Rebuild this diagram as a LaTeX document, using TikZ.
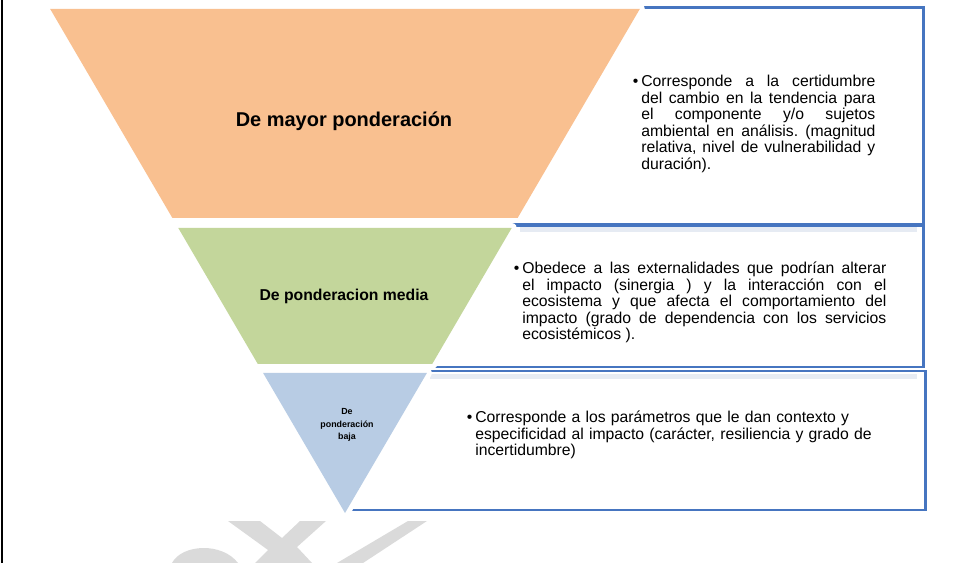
\documentclass[tikz,border=0pt]{standalone}
\usepackage{fontspec}
\setmainfont{Liberation Sans}
\usetikzlibrary{positioning}
\frenchspacing
\definecolor{boxblue}{RGB}{70,117,192}
\definecolor{pyrorange}{RGB}{249,192,144}
\definecolor{pyrgreen}{RGB}{195,214,155}
\definecolor{pyrblue}{RGB}{184,204,228}
\definecolor{shadowgray}{RGB}{230,235,243}
\definecolor{markgray}{RGB}{218,218,218}
\tikzstyle{infobox} = [
  rectangle,
  draw=boxblue,
  line width=2.1pt,
  inner sep=0
]
\tikzstyle{band} = [
  preaction={draw=white, line width=7.1pt, line join=round}
]
\tikzstyle{level} = [
  text centered,
  inner sep=0,
  font=\bfseries
]
\tikzstyle{desc} = [
  anchor=west,
  inner sep=0,
  font=\fontsize{11.2}{11.8}\selectfont
]

\begin{document}
\begin{tikzpicture}[x=0.025cm, y=-0.025cm]
      \useasboundingbox (0,0) rectangle (980,563);

      % cajas de la derecha
      \node [infobox, minimum width=14.45cm, minimum height=5.4cm] (boxmayor) at (634,116) {};
      \node [infobox, minimum width=14.45cm, minimum height=3.525cm] (boxmedia) at (634,296.5) {};
      \node [infobox, minimum width=14.5cm, minimum height=3.475cm] (boxbaja) at (635,440.5) {};
      \fill [shadowgray] (520,227.5) rectangle (917,232.5);
      \fill [shadowgray] (430,374.5) rectangle (917,379.5);

      % piramide invertida
      \fill [band, pyrorange] (50.2,9) -- (639.8,9) -- (517.6,218) -- (172.4,218) -- cycle;
      \fill [band, pyrgreen] (178.3,228) -- (511.7,228) -- (432.2,364) -- (257.8,364) -- cycle;
      \fill [band, pyrblue] (263.1,373) -- (426.9,373) -- (345,513) -- cycle;

      \node [level, font=\fontsize{14.2}{16}\bfseries] (mayor) at (344,121) {De mayor ponderación};
      \node [level, font=\fontsize{11.2}{13}\bfseries] (media) at (344,296) {De ponderacion media};
      \node [level, align=center, font=\fontsize{6.3}{8.8}\bfseries] (baja) at (347,425) {De\\ponderación\\baja};

      \node [desc, text width=5.85cm, align=justify] (txtmayor) at (641,124) {\llap{\textbullet\hspace{2pt}}Corresponde a la certidumbre\linebreak del cambio en la tendencia para\linebreak el componente y/o sujetos\linebreak ambiental en análisis. (magnitud\linebreak relativa, nivel de vulnerabilidad y\linebreak duración).};
      \node [desc, text width=9.1cm, align=justify] (txtmedia) at (522,302.5) {\llap{\textbullet\hspace{2pt}}Obedece a las externalidades que podrían alterar\linebreak el impacto (sinergia ) y la interacción con el\linebreak ecosistema y que afecta el comportamiento del\linebreak impacto (grado de dependencia con los servicios\linebreak ecosistémicos ).};
      \node [desc, text width=10.5cm, align=left] (txtbaja) at (475,435) {\llap{\textbullet\hspace{2pt}}Corresponde a los parámetros que le dan contexto y\\especificidad al impacto (carácter, resiliencia y grado de\\incertidumbre)};

      % marca de agua
      \fill [markgray] (172,563) .. controls (182,544) and (222,542) .. (238,563) -- cycle;
      \fill [markgray] (228,521) -- (260,521) -- (282,538) -- (300,521) -- (326,521) -- (297,547) -- (312,563) -- (255,563) -- (268,550) -- cycle;
      \fill [markgray] (408,521) -- (427,521) -- (363,563) -- (337,563) -- cycle;

      \draw [line width=1.1pt] (2,0) -- (2,563);

    \end{tikzpicture}
\end{document}
